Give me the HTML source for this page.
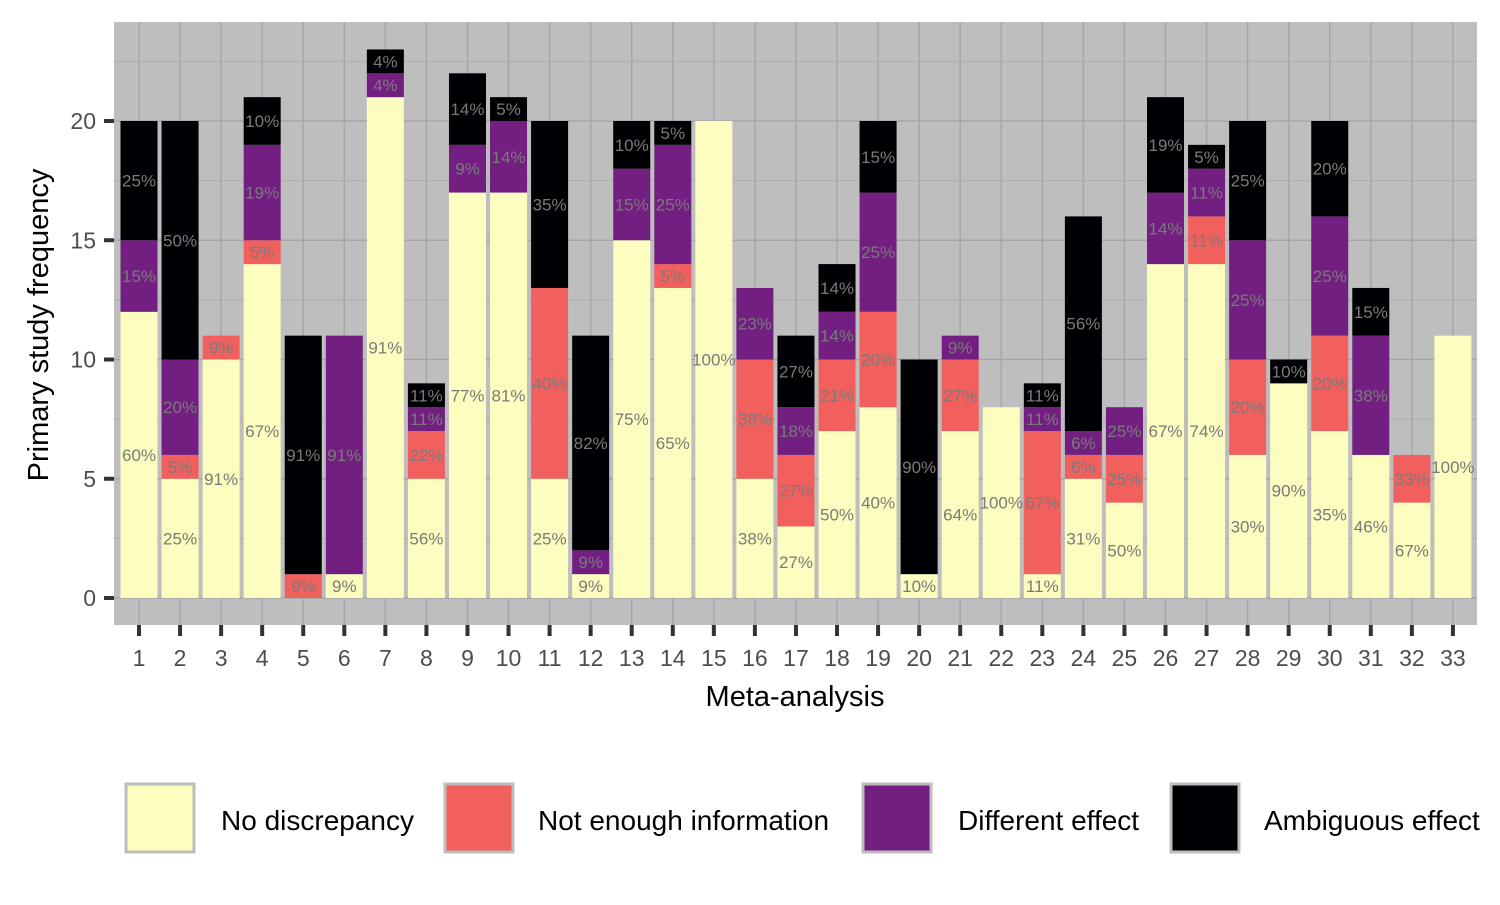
<!DOCTYPE html>
<html><head><meta charset="utf-8"><style>
body{margin:0;background:#fff;font-family:"Liberation Sans",Arial,sans-serif}
svg text{font-family:"Liberation Sans",Arial,sans-serif}
</style></head><body>
<svg id="chart" width="1500" height="900" xmlns="http://www.w3.org/2000/svg">
<rect x="114" y="22" width="1363" height="603" fill="#bebebe"/>
<g id="grid"></g><g id="bars"></g><g id="labels"></g><g id="axes"></g>
<text x="795" y="706" font-size="29" text-anchor="middle" fill="#000">Meta-analysis</text>
<text transform="translate(48,325) rotate(-90)" font-size="29" text-anchor="middle" fill="#000">Primary study frequency</text>
<g id="legend"></g>
</svg>
<script>
const categories=[1,2,3,4,5,6,7,8,9,10,11,12,13,14,15,16,17,18,19,20,21,22,23,24,25,26,27,28,29,30,31,32,33];
const noDiscrepancy=[12,5,10,14,0,1,21,5,17,17,5,1,15,13,20,5,3,7,8,1,7,8,1,5,4,14,14,6,9,7,6,4,11];
const notEnoughInfo=[0,1,1,1,1,0,0,2,0,0,8,0,0,1,0,5,3,3,4,0,3,0,6,1,2,0,2,4,0,4,0,2,0];
const differentEffect=[3,4,0,4,0,10,1,1,2,3,0,1,3,5,0,3,2,2,5,0,1,0,1,1,2,3,2,5,0,5,5,0,0];
const ambiguousEffect=[5,10,0,2,10,0,1,1,3,1,7,9,2,1,0,0,3,2,3,9,0,0,1,9,0,4,1,5,1,4,2,0,0];
const yTicks=[0,5,10,15,20];
const seriesNames=["No discrepancy","Not enough information","Different effect","Ambiguous effect"];
const colors=["#fcfdbf","#f1605d","#721f81","#000004"];
const series=[noDiscrepancy,notEnoughInfo,differentEffect,ambiguousEffect];
const NS="http://www.w3.org/2000/svg";
const y=v=>598-v*23.85;
const x=i=>139+i*41.06;
const bw=37;
function mk(t,a,p){const e=document.createElementNS(NS,t);for(const k in a)e.setAttribute(k,a[k]);p.appendChild(e);return e;}
const G=document.getElementById('grid');
for(let v=2.5;v<=22.5;v+=5){const l=mk('line',{x1:114,x2:1477,y1:y(v),y2:y(v),stroke:'#acacac','stroke-width':1},G);

}
yTicks.forEach(v=>{const l=mk('line',{x1:114,x2:1477,y1:y(v),y2:y(v),stroke:'#a6a6a6','stroke-width':1.5},G);

});
categories.forEach((c,i)=>{const l=mk('line',{x1:x(i),x2:x(i),y1:22,y2:625,stroke:'#a6a6a6','stroke-width':1.5},G);

});
const B=document.getElementById('bars'),L=document.getElementById('labels');
categories.forEach((c,i)=>{
 const tot=series.reduce((s,a)=>s+a[i],0);let cum=0;
 series.forEach((arr,k)=>{const v=arr[i];if(v>0){
  const r=mk('rect',{x:x(i)-bw/2,y:y(cum+v),width:bw,height:v*23.85,fill:colors[k]},B);
  
  
  const t=mk('text',{x:x(i),y:y(cum+v/2)+6,'font-size':17,'text-anchor':'middle',fill:'#7a7a7a'},L);
  t.textContent=Math.round(v/tot*100)+'%';
  
  }
  cum+=v;});
});
const A=document.getElementById('axes');
yTicks.forEach(v=>{const l=mk('line',{x1:104,x2:114,y1:y(v),y2:y(v),stroke:'#333','stroke-width':4},A);


const t=mk('text',{x:96,y:y(v)+8,'font-size':23,'text-anchor':'end',fill:'#4d4d4d'},A);t.textContent=v;

});
categories.forEach((c,i)=>{const l=mk('line',{x1:x(i),x2:x(i),y1:625,y2:636,stroke:'#333','stroke-width':4},A);


const t=mk('text',{x:x(i),y:666,'font-size':23,'text-anchor':'middle',fill:'#4d4d4d'},A);t.textContent=c;

});
const LG=document.getElementById('legend');
const bx=[125,444,862,1170],tx=[221,538,958,1264];
seriesNames.forEach((n,k)=>{const r=mk('rect',{x:bx[k]+1,y:784,width:68,height:68,fill:colors[k],stroke:'#bdbdbd','stroke-width':3},LG);


const t=mk('text',{x:tx[k],y:830,'font-size':28,fill:'#000'},LG);t.textContent=n;

});
</script>
</body></html>
